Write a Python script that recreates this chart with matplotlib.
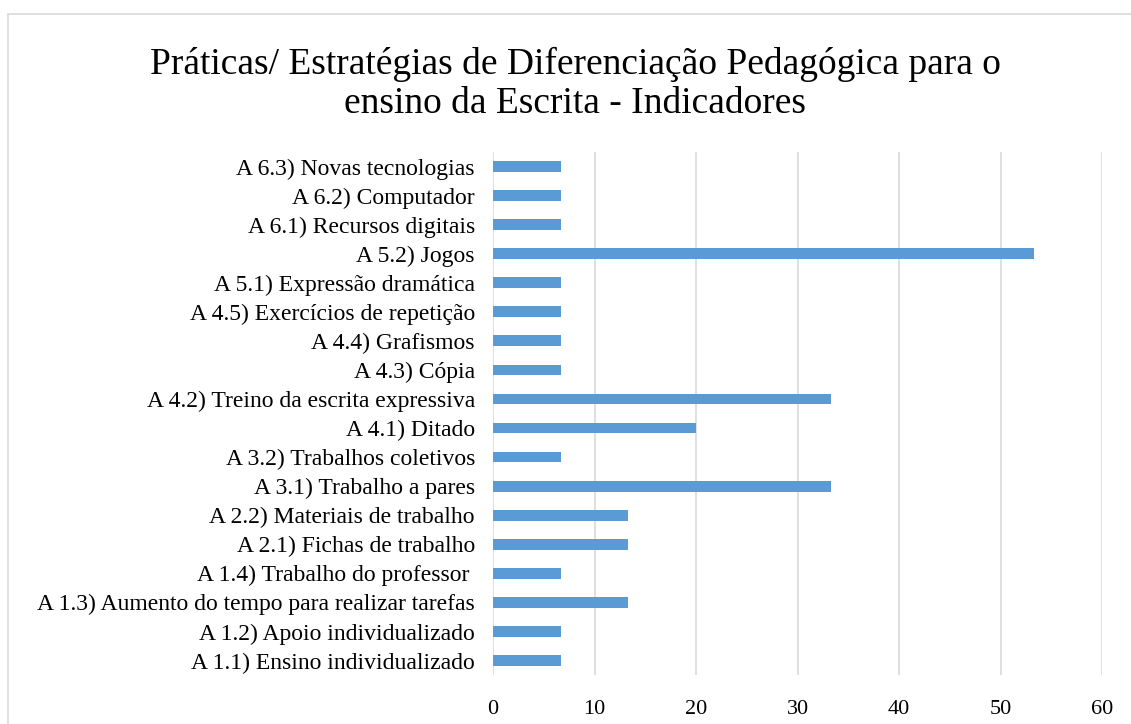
import numpy as np
import matplotlib.pyplot as plt
from matplotlib.patches import Rectangle

plt.rcParams['font.family'] = ['Liberation Serif', 'DejaVu Serif']

# categories listed bottom to top
labels = ['A 1.1) Ensino individualizado', 'A 1.2) Apoio individualizado',
          'A 1.3) Aumento do tempo para realizar tarefas', 'A 1.4) Trabalho do professor ',
          'A 2.1) Fichas de trabalho', 'A 2.2) Materiais de trabalho',
          'A 3.1) Trabalho a pares', 'A 3.2) Trabalhos coletivos',
          'A 4.1) Ditado', 'A 4.2) Treino da escrita expressiva',
          'A 4.3) Cópia', 'A 4.4) Grafismos', 'A 4.5) Exercícios de repetição',
          'A 5.1) Expressão dramática', 'A 5.2) Jogos',
          'A 6.1) Recursos digitais', 'A 6.2) Computador', 'A 6.3) Novas tecnologias']
values = [6.67, 6.67, 13.33, 6.67, 13.33, 13.33, 33.33, 6.67, 20.0, 33.33,
          6.67, 6.67, 6.67, 6.67, 53.33, 6.67, 6.67, 6.67]
xticks = [0, 10, 20, 30, 40, 50, 60]

fig = plt.figure(figsize=(11.31, 7.24), dpi=100)
ax = fig.add_axes([493/1131, 1 - 675/724, (1102-493)/1131, (675-152)/724])

y = np.arange(len(labels))
ax.barh(y, values, height=0.37, color='#5b9bd5', zorder=3)
ax.set_yticks(y)
ax.set_yticklabels(labels, fontsize=17)
ax.set_ylim(-0.5, len(labels) - 0.5)
ax.set_xlim(0, 60)
ax.set_xticks(xticks)
ax.set_xticklabels([str(v) for v in xticks], fontsize=16)
ax.tick_params(axis='x', length=0, pad=18)
ax.tick_params(axis='y', length=0, pad=13)
ax.grid(axis='x', color='#d9d9d9', linewidth=1.2, zorder=0)
for s in ax.spines.values():
    s.set_visible(False)

fig.suptitle('Práticas/ Estratégias de Diferenciação Pedagógica para o\nensino da Escrita - Indicadores',
             x=575/1131, y=1 - 47/724, va='top', fontsize=27, linespacing=1.15)

# chart-area border, cut off at right and bottom like the source image
fig.patches.append(Rectangle((8/1131, -0.1), 1.2, 1 - 14/724 + 0.1, transform=fig.transFigure,
                             fill=False, edgecolor='#d9d9d9', linewidth=1.2))

fig.savefig('out.png', dpi=100)
